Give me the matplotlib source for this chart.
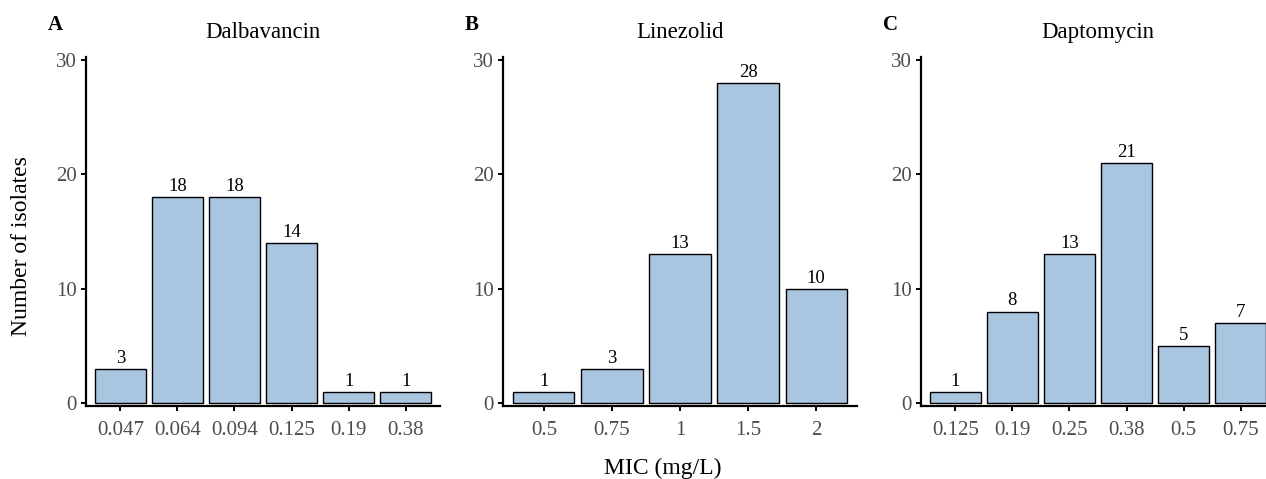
import matplotlib
matplotlib.use("Agg")
import matplotlib.pyplot as plt

plt.rcParams["font.family"] = ["Liberation Serif", "DejaVu Serif"]

# MIC distributions
dalba_mic = ["0.047", "0.064", "0.094", "0.125", "0.19", "0.38"]
dalba_n = [3, 18, 18, 14, 1, 1]

linez_mic = ["0.5", "0.75", "1", "1.5", "2"]
linez_n = [1, 3, 13, 28, 10]

dapto_mic = ["0.125", "0.19", "0.25", "0.38", "0.5", "0.75"]
dapto_n = [1, 8, 13, 21, 5, 7]

panels = [
    ("A", "Dalbavancin", dalba_mic, dalba_n, 86),
    ("B", "Linezolid", linez_mic, linez_n, 503),
    ("C", "Daptomycin", dapto_mic, dapto_n, 921),
]

W, H = 1266, 479
BAR_COLOR = "#A9C5E0"
TICK_COLOR = "#4D4D4D"

fig = plt.figure(figsize=(W / 100, H / 100), dpi=100)

for letter, title, cats, vals, left_px in panels:
    ax = fig.add_axes([left_px / W, (H - 406) / H, 354 / W, 349 / H])
    x = list(range(len(cats)))
    ax.bar(x, vals, width=0.9, color=BAR_COLOR, edgecolor="black", linewidth=1.0)
    for xi, v in zip(x, vals):
        ax.annotate(str(v), (xi, v), xytext=(0, 1.5), textcoords="offset points",
                    ha="center", va="bottom", fontsize=13.5, color="black")
    ax.set_xlim(-0.6, len(cats) - 0.4)
    ax.set_ylim(-0.26, 30.26)
    ax.set_xticks(x)
    ax.set_xticklabels(cats)
    ax.set_yticks([0, 10, 20, 30])
    for s in ["top", "right"]:
        ax.spines[s].set_visible(False)
    for s in ["left", "bottom"]:
        ax.spines[s].set_linewidth(1.6)
    ax.tick_params(axis="both", length=3.5, width=1.4, labelsize=15,
                   labelcolor=TICK_COLOR, color="black", pad=3)
    ax.tick_params(axis="x", pad=7)
    ax.set_title(title, fontsize=16.5, pad=14)
    fig.text((left_px - 38) / W, 1 - 25 / H, letter, fontsize=15,
             fontweight="bold", ha="left", va="center")

fig.text(22 / W, 1 - 246 / H, "Number of isolates", rotation=90,
         ha="center", va="center", fontsize=17)
fig.text(663 / W, 1 - 468 / H, "MIC (mg/L)", ha="center", va="center", fontsize=17)

fig.savefig("out.png", dpi=100)
